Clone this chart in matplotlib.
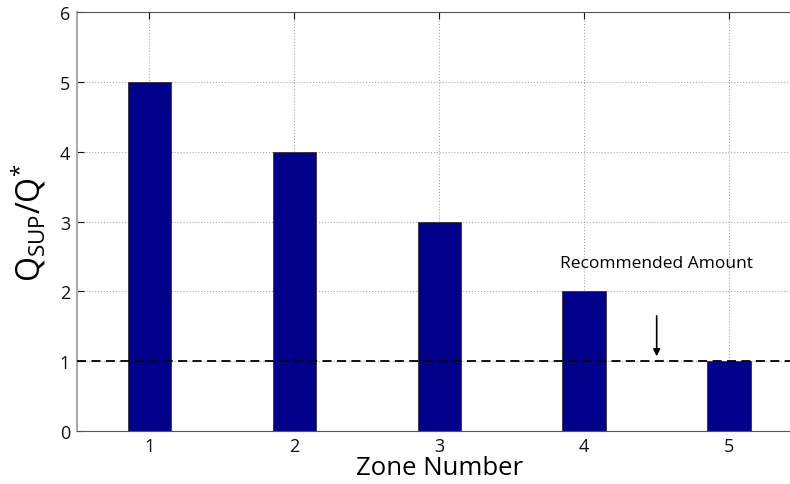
import matplotlib
matplotlib.use("Agg")
import matplotlib.pyplot as plt

zones = [1, 2, 3, 4, 5]
ratios = [5, 4, 3, 2, 1]
recommended = 1
xticks = [1, 2, 3, 4, 5]
yticks = [0, 1, 2, 3, 4, 5, 6]

plt.rcParams['font.family'] = ['Open Sans', 'DejaVu Sans']
plt.rcParams['mathtext.fontset'] = 'custom'
plt.rcParams['mathtext.rm'] = 'Open Sans'
plt.rcParams['mathtext.it'] = 'Open Sans'

fig = plt.figure(figsize=(7.9, 4.85), dpi=100)
ax = fig.add_axes([77/790, 1 - 432/485, (801.6 - 77)/790, (432 - 13)/485])

ax.bar(zones, ratios, width=0.3, color='#00008B', edgecolor='#333333', linewidth=0.6, zorder=2)
ax.axhline(recommended, color='black', linestyle=(0, (5, 3)), linewidth=1.3, zorder=3)

ax.set_xlim(0.5, 5.5)
ax.set_ylim(0, 6)
ax.set_xticks(xticks)
ax.set_yticks(yticks)
ax.tick_params(direction='in', length=5, labelsize=13, colors='#111111', top=True, right=True, pad=5)
ax.tick_params(axis='x', pad=4)
ax.grid(True, linestyle=':', color='#aaaaaa', linewidth=0.8, zorder=0)
ax.set_axisbelow(True)
for s in ['left']:
    ax.spines[s].set_color('#aaaaaa')
    ax.spines[s].set_linewidth(1.5)
for s in ['bottom', 'top']:
    ax.spines[s].set_color('#555555')
ax.spines['right'].set_visible(False)

ax.set_xlabel('Zone Number', fontsize=18.5, labelpad=0)
ax.set_ylabel(r'$\mathregular{Q_{SUP}/Q^{*}}$', fontsize=23, labelpad=8)

ax.annotate('Recommended Amount', xy=(4.5, 1.07), xytext=(4.5, 2.4),
            ha='center', va='center', fontsize=12.5,
            arrowprops=dict(arrowstyle='-|>', color='black', lw=1.2, shrinkA=30, shrinkB=0,
                            mutation_scale=10))

fig.savefig('out.png', dpi=100)
